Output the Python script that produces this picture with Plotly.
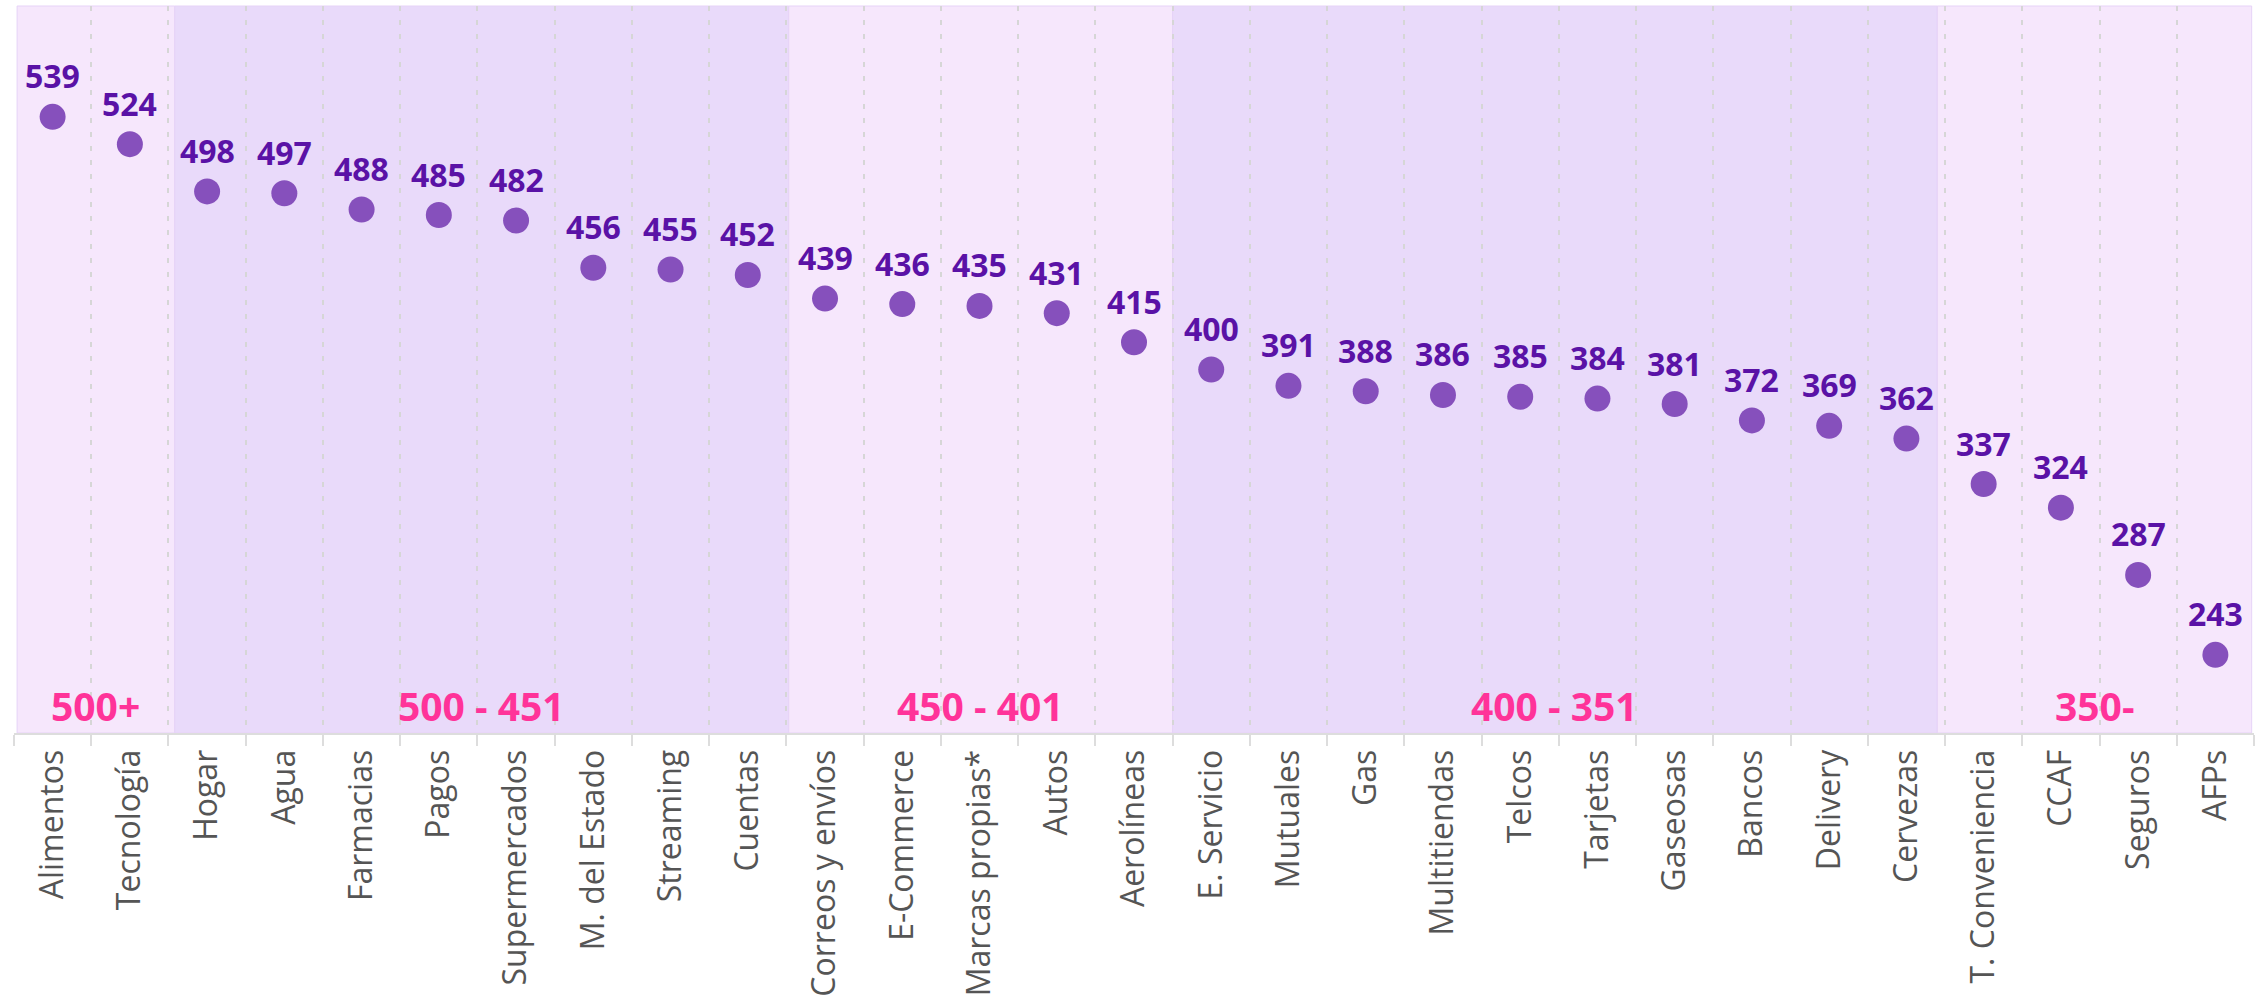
import plotly.graph_objects as go

categories = ["Alimentos", "Tecnología", "Hogar", "Agua", "Farmacias", "Pagos",
              "Supermercados", "M. del Estado", "Streaming", "Cuentas",
              "Correos y envíos", "E-Commerce", "Marcas propias*", "Autos",
              "Aerolíneas", "E. Servicio", "Mutuales", "Gas", "Multitiendas",
              "Telcos", "Tarjetas", "Gaseosas", "Bancos", "Delivery", "Cervezas",
              "T. Conveniencia", "CCAF", "Seguros", "AFPs"]
values = [539, 524, 498, 497, 488, 485, 482, 456, 455, 452,
          439, 436, 435, 431, 415, 400, 391, 388, 386, 385,
          384, 381, 372, 369, 362, 337, 324, 287, 243]

band_labels = ["500+", "500 - 451", "450 - 401", "400 - 351", "350-"]
band_sizes = [2, 8, 5, 10, 4]

FONT = "Open Sans"
light = "#F6E7FC"
dark = "#E9DAFA"

fig = go.Figure()
fig.add_trace(go.Scatter(
    x=categories, y=values, mode="markers",
    marker=dict(size=26, color="#8650BC"),
    cliponaxis=False, showlegend=False, hoverinfo="skip",
))

# band edges (category units) as observed in the reference
edges = [-0.46, 1.58, 9.53, 14.5, 24.4, 28.47]
shapes = []
annotations = []
for i, lab in enumerate(band_labels):
    x0, x1 = edges[i], edges[i + 1]
    col = light if i % 2 == 0 else dark
    shapes.append(dict(type="rect", xref="x", yref="paper", x0=x0, x1=x1,
                       y0=0, y1=1, fillcolor=col, layer="below",
                       line=dict(width=1, color="#E6D3F7")))
    annotations.append(dict(x=(x0 + x1) / 2, y=215, xref="x", yref="y",
                            text=lab, showarrow=False,
                            font=dict(family=FONT, size=39, color="#FF3399",
                                      weight="bold")))

for c, v in zip(categories, values):
    annotations.append(dict(x=c, y=v, xref="x", yref="y", text=str(v),
                            showarrow=False, yshift=41, yanchor="middle",
                            font=dict(family=FONT, size=32, color="#5A12A6",
                                      weight="bold")))

fig.update_layout(
    width=2267, height=1008,
    margin=dict(l=14, r=13, t=6, b=275, autoexpand=False),
    paper_bgcolor="white", plot_bgcolor="white",
    shapes=shapes, annotations=annotations,
    xaxis=dict(
        type="category", range=[-0.5, 28.5], tickson="boundaries",
        showgrid=True, gridcolor="#D6D6D6", gridwidth=2, griddash="5px,9px",
        ticks="outside", ticklen=11, tickwidth=2, tickcolor="#DDDDDD",
        showline=True, linecolor="#DDDDDD", linewidth=2, automargin=False,
        tickangle=-90, tickfont=dict(family=FONT, size=32, color="#555555"),
        ticklabelstandoff=2,
    ),
    yaxis=dict(range=[200, 600], showgrid=False, showticklabels=False,
               zeroline=False, showline=False, ticks="", automargin=False),
)

fig.write_html("out.html", config={"displayModeBar": False},
               post_script="document.body.style.margin='0';document.body.style.overflow='hidden';")
